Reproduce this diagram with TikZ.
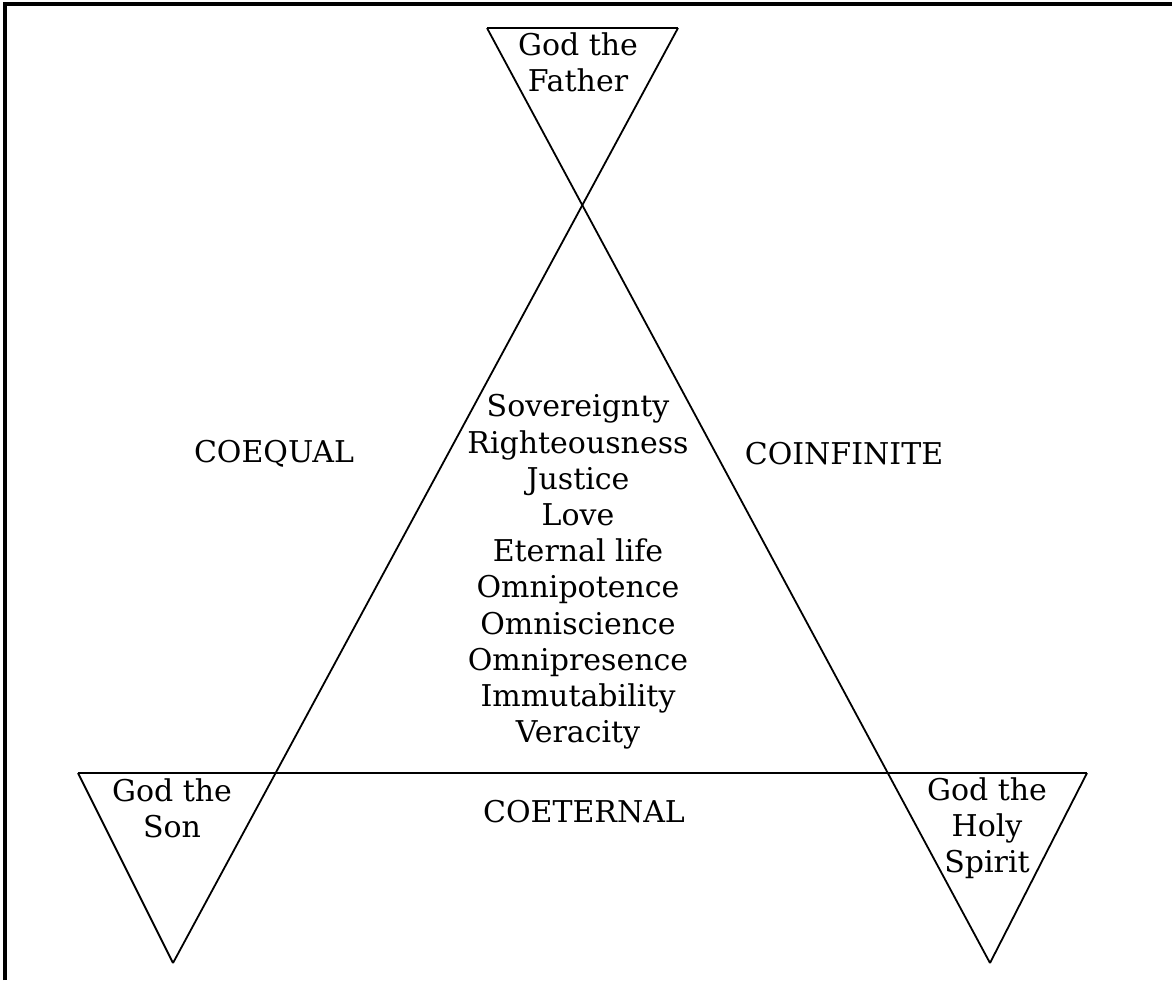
\documentclass[tikz,border=0pt]{standalone}
\usepackage{fontspec}
\setmainfont{DejaVu Serif}

\begin{document}
\begin{tikzpicture}
[
    x=0.5pt, y=-0.5pt,
    edge/.style={line width=0.9pt},
    frame/.style={line width=1.6pt},
    word/.style={font=\fontsize{15}{18.1}\selectfont, align=center, inner sep=0pt},
]
\useasboundingbox (0,0) rectangle (1172,980);
\draw [frame] (5,980) -- (5,4) -- (1172,4);

\coordinate (fatherL) at (487,28);
\coordinate (fatherR) at (678,28);
\coordinate (sonL) at (78,773);
\coordinate (sonTip) at (173,963);
\coordinate (spiritR) at (1087,773);
\coordinate (spiritTip) at (990,963);

\draw [edge] (fatherL) -- (fatherR);
\draw [edge] (fatherL) -- (spiritTip);
\draw [edge] (fatherR) -- (sonTip);
\draw [edge] (sonL) -- (spiritR);
\draw [edge] (sonL) -- (sonTip);
\draw [edge] (spiritR) -- (spiritTip);

\node [word] (father) at (578,62) {God the\\Father};
\node [word] (son) at (172,808) {God the\\Son};
\node [word] (spirit) at (987,828) {God the\\Holy\\Spirit};
\node [word] (coequal) at (274,454) {COEQUAL};
\node [word] (coinfinite) at (844,454) {COINFINITE};
\node [word] (coeternal) at (584,812) {COETERNAL};
\node [word] (attributes) at (578,572)
{Sovereignty\\Righteousness\\Justice\\Love\\Eternal life\\Omnipotence\\Omniscience\\Omnipresence\\Immutability\\Veracity};
\end{tikzpicture}
\end{document}
